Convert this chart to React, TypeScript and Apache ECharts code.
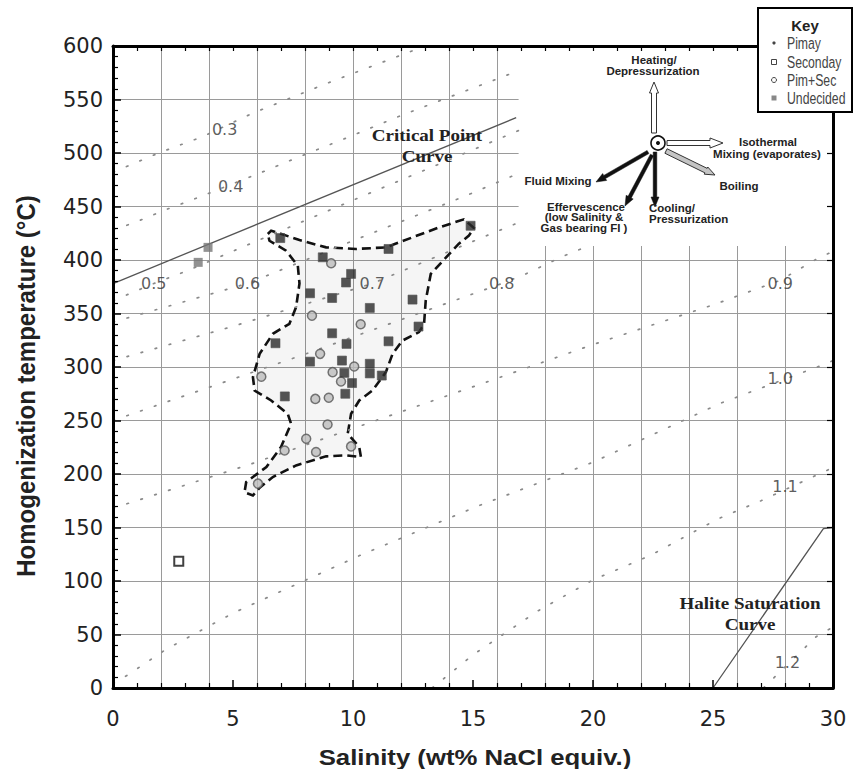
import React, { useEffect, useRef } from 'react';
import * as echarts from 'echarts';

// ---- Reference curves ----
const criticalCurve = [[0, 378], [16.8, 533]];
const haliteCurve = [[25, 0], [29.6, 149], [30, 150]];

// ---- Density isochores (g/cm3) ----
const iso03 = [[0, 482], [1.9, 500], [3.7, 515], [5.8, 537], [8.9, 565], [13.0, 600]];
const iso04 = [[0, 428], [0.9, 435], [2.2, 447], [3.5, 458], [6.2, 482], [7.6, 495], [9.5, 512], [12.0, 535], [14.1, 553], [16.1, 570], [16.9, 577]];
const iso05 = [[0, 362], [1.7, 378], [3.1, 390], [5.7, 415], [10.75, 463], [13.2, 486], [16.9, 521]];
const iso06 = [[0, 342], [5.6, 378], [10, 418], [14.7, 460], [16.9, 481]];
const iso07 = [[0, 306], [5, 338], [10.8, 378], [15.7, 424], [16.9, 435]];
const iso08 = [[0, 250], [8, 312], [16.2, 378], [17.2, 387], [18.7, 403], [19.9, 414]];
const iso09 = [[0, 168], [5.7, 209], [15.7, 287], [20, 321], [25, 358], [27.8, 381], [29.4, 402], [30, 408]];
const iso10 = [[0, 4], [0.6, 12], [2.2, 36], [5, 70], [10.3, 124], [15.2, 170], [20, 211], [25.3, 266], [29.7, 303], [30, 306]];
const iso11 = [[13.3, 0], [15, 31], [17.7, 72], [20, 101], [22.4, 124], [25.2, 158], [27, 175], [30, 206]];
const iso12 = [[27.1, 0], [29.3, 48], [30, 57]];
const isochores = [iso03, iso04, iso05, iso06, iso07, iso08, iso09, iso10, iso11, iso12];

const isoLabelNames = ['0.3', '0.4', '0.5', '0.6', '0.7', '0.8', '0.9', '1.0', '1.1', '1.2'];
const isoLabelPos = [[4.65, 522], [4.9, 469], [1.7, 378], [5.6, 378], [10.8, 378], [16.2, 378], [27.8, 378], [27.8, 289], [28.0, 188], [28.1, 24]];

// ---- Fluid inclusion data (salinity wt% NaCl, Th °C) ----
const undecidedDark = [
  [6.97, 420.5], [11.48, 410.3], [8.74, 402.5], [9.92, 387], [9.71, 379], [8.21, 368.9], [9.13, 364.5],
  [12.48, 363], [10.7, 355.2], [12.73, 337.8], [9.13, 331.5], [6.77, 322.2], [9.73, 321.6], [11.48, 324],
  [8.21, 305], [9.54, 306], [10.7, 303], [9.64, 294.5], [10.7, 294], [11.2, 292], [9.96, 285], [9.68, 275],
  [7.16, 272.5], [14.9, 432],
];
const undecidedLight = [[3.96, 411.8], [3.55, 397.8]];
const pimSec = [
  [9.09, 397], [8.29, 348], [10.32, 340], [8.63, 312.3], [10.05, 300.5], [9.15, 295.2], [9.5, 286.5],
  [6.18, 291], [8.43, 270.2], [8.99, 271.2], [8.94, 246.3], [8.05, 233], [7.15, 222], [8.46, 220.5],
  [9.92, 225.8], [6.04, 191],
];
const secondary = [[2.74, 118.5]];

// ---- Outline of the inclusion field ----
const envelope = [
  [6.45, 424.3], [6.59, 427.4], [7.77, 418.7], [8.88, 411.8], [10.12, 410.3], [11.37, 411.8], [12.48, 421.2],
  [13.59, 430.5], [14.62, 438], [15.04, 430], [14.83, 422.8], [14.4, 415], [13.86, 402], [13.24, 387],
  [13.03, 362], [12.96, 340], [12.75, 332.6], [12.06, 324.7], [11.65, 312.3], [11.37, 295.2], [10.81, 278],
  [10.26, 268.7], [9.92, 256.3], [9.78, 237.6], [10.26, 225.2], [10.33, 215.8], [9.71, 217.4], [8.88, 216.5],
  [7.63, 208], [6.66, 197.2], [6.11, 187.2], [5.83, 180], [5.48, 183], [5.55, 192.5], [6.39, 206.5],
  [7.0, 225.2], [7.42, 247], [7.28, 256.3], [6.59, 268.7], [5.9, 278], [5.83, 290.5], [6.11, 312.3],
  [6.66, 331], [7.35, 340.4], [7.63, 356], [7.77, 378], [7.7, 394.7], [7.21, 408.7], [6.52, 418],
];
const insetArea = [[16.9, 413], [30, 600]];

function arrowPts(x1: number, y1: number, x2: number, y2: number, sw: number, hw: number, hl: number) {
  const dx = x2 - x1, dy = y2 - y1;
  const L = Math.hypot(dx, dy);
  const ux = dx / L, uy = dy / L;
  const nx = -uy, ny = ux;
  const bx = x2 - ux * hl, by = y2 - uy * hl;
  return [
    [x1 + nx * sw / 2, y1 + ny * sw / 2],
    [bx + nx * sw / 2, by + ny * sw / 2],
    [bx + nx * hw / 2, by + ny * hw / 2],
    [x2, y2],
    [bx - nx * hw / 2, by - ny * hw / 2],
    [bx - nx * sw / 2, by - ny * sw / 2],
    [x1 - nx * sw / 2, y1 - ny * sw / 2],
  ];
}

function txt(text: string, x: number, y: number, o: any = {}) {
  return {
    type: 'text',
    x, y,
    z: o.z ?? 50,
    rotation: o.rotation ?? 0,
    scaleX: o.scaleX ?? 1,
    scaleY: o.scaleY ?? 1,
    silent: true,
    style: {
      text,
      fontSize: o.fontSize ?? 10,
      fontWeight: o.fontWeight ?? 'bold',
      fontFamily: o.fontFamily ?? '"Liberation Sans", Arial, sans-serif',
      fill: o.fill ?? '#222',
      align: o.align ?? 'center',
      verticalAlign: 'middle',
      textAlign: o.align ?? 'center',
      textVerticalAlign: 'middle',
      lineHeight: o.lineHeight,
    },
  };
}

function poly(points: number[][], fill: string, stroke: string, lw: number) {
  return { type: 'polygon', z: 50, silent: true, shape: { points }, style: { fill, stroke, lineWidth: lw } };
}

export default function App() {
  const ref = useRef<HTMLDivElement>(null);
  useEffect(() => {
    document.body.style.margin = '0';
    if (!ref.current) return;
    const chart = echarts.init(ref.current, undefined, { renderer: 'svg' });

    const axisLineStyle = { color: '#000', width: 3 };
    const isoLineStyle = { color: '#8a8a8a', width: 1.7, type: [1.6, 13], cap: 'round' };

    const inset = [
      { type: 'circle', z: 50, silent: true, shape: { cx: 658, cy: 143, r: 7 }, style: { fill: '#fff', stroke: '#111', lineWidth: 1.6 } },
      { type: 'circle', z: 51, silent: true, shape: { cx: 658, cy: 143, r: 2 }, style: { fill: '#111' } },
      poly(arrowPts(654, 133, 654, 82, 5, 9, 11), '#fff', '#333', 1),
      poly(arrowPts(667, 143, 723, 143, 5, 10, 13), '#fff', '#333', 1),
      poly(arrowPts(666, 151, 715, 175, 5, 8, 10), '#c4c4c4', '#333', 1),
      poly(arrowPts(648, 152, 596, 182, 3.6, 8, 10), '#111', '#111', 0.5),
      poly(arrowPts(652, 155, 625, 206, 3.6, 8, 10), '#111', '#111', 0.5),
      poly(arrowPts(655, 152, 655, 207, 3.6, 8, 10), '#111', '#111', 0.5),
      txt('Heating/', 654, 60, { scaleX: 1.15 }),
      txt('Depressurization', 653, 71, { scaleX: 1.15 }),
      txt('Isothermal', 768, 142, { scaleX: 1.15 }),
      txt('Mixing (evaporates)', 767, 154, { scaleX: 1.15 }),
      txt('Boiling', 739, 186, { scaleX: 1.15 }),
      txt('Fluid Mixing', 558, 181, { scaleX: 1.15 }),
      txt('Effervescence', 586, 207, { scaleX: 1.15 }),
      txt('(low Salinity &', 584, 217, { scaleX: 1.15 }),
      txt('Gas bearing FI )', 584, 228, { scaleX: 1.15 }),
      txt('Cooling/', 649, 208, { scaleX: 1.15, align: 'left' }),
      txt('Pressurization', 649, 219, { scaleX: 1.15, align: 'left' }),
    ];

    const keyBox = [
      { type: 'rect', z: 100, silent: true, shape: { x: 758, y: 8, width: 94, height: 104 }, style: { fill: '#fff', stroke: '#000', lineWidth: 2 } },
      txt('Key', 805, 25, { fontSize: 15, z: 101, fill: '#222' }),
      { type: 'circle', z: 101, silent: true, shape: { cx: 774, cy: 43, r: 1.6 }, style: { fill: '#444' } },
      { type: 'rect', z: 101, silent: true, shape: { x: 771.5, y: 59.5, width: 5, height: 5 }, style: { fill: '#fff', stroke: '#444', lineWidth: 1 } },
      { type: 'circle', z: 101, silent: true, shape: { cx: 774, cy: 80, r: 2.5 }, style: { fill: '#fff', stroke: '#444', lineWidth: 1 } },
      { type: 'rect', z: 101, silent: true, shape: { x: 771.5, y: 95.5, width: 5, height: 5 }, style: { fill: '#888' } },
      txt('Pimay', 787, 43, { fontSize: 17, fontWeight: 'normal', scaleX: 0.72, align: 'left', z: 101, fill: '#444' }),
      txt('Seconday', 787, 62, { fontSize: 17, fontWeight: 'normal', scaleX: 0.72, align: 'left', z: 101, fill: '#444' }),
      txt('Pim+Sec', 787, 80, { fontSize: 17, fontWeight: 'normal', scaleX: 0.72, align: 'left', z: 101, fill: '#444' }),
      txt('Undecided', 787, 98, { fontSize: 17, fontWeight: 'normal', scaleX: 0.72, align: 'left', z: 101, fill: '#444' }),
    ];

    const titles = [
      txt('Salinity (wt% NaCl equiv.)', 475, 757, { fontSize: 22, scaleX: 1.17 }),
      txt('Homogenization temperature (°C)', 26, 386, { fontSize: 24, rotation: Math.PI / 2, scaleY: 1.1 }),
      txt('Critical Point\nCurve', 427, 146, { fontSize: 17, fontFamily: '"Liberation Serif", "Times New Roman", serif', scaleX: 1.12, lineHeight: 21 }),
      txt('Halite Saturation\nCurve', 750, 614, { fontSize: 17, fontFamily: '"Liberation Serif", "Times New Roman", serif', scaleX: 1.12, lineHeight: 21 }),
    ];

    const option: any = {
      animation: false,
      backgroundColor: '#fff',
      grid: { left: 113, right: 22, top: 46, bottom: 81, containLabel: false },
      xAxis: [
        {
          type: 'value', position: 'bottom', min: 0, max: 30, interval: 5, z: 10,
          axisLine: { show: true, onZero: false, lineStyle: axisLineStyle },
          axisTick: { show: true, inside: true, length: 8, lineStyle: { color: '#000', width: 1.5 } },
          minorTick: { show: true, splitNumber: 5, length: 5, lineStyle: { color: '#000', width: 1.2 } },
          axisLabel: { color: '#222', fontSize: 21, fontFamily: 'DejaVu Sans', margin: 20 },
          splitLine: { show: false },
        },
        {
          type: 'value', position: 'top', min: 0, max: 30, interval: 1, z: 10,
          axisLine: { show: true, onZero: false, lineStyle: axisLineStyle },
          axisTick: { show: true, inside: true, length: 5, lineStyle: { color: '#000', width: 1.2 } },
          axisLabel: { show: false },
          splitLine: { show: false },
        },
        {
          type: 'value', min: 0, max: 30, interval: 2, z: 0,
          axisLine: { show: false }, axisTick: { show: false }, axisLabel: { show: false },
          splitLine: { show: true, lineStyle: { color: '#9a9a9a', width: 1 } },
        },
      ],
      yAxis: [
        {
          type: 'value', position: 'left', min: 0, max: 600, interval: 50, z: 10,
          axisLine: { show: true, onZero: false, lineStyle: axisLineStyle },
          axisTick: { show: true, inside: true, length: 8, lineStyle: { color: '#000', width: 1.5 } },
          minorTick: { show: true, splitNumber: 5, length: 5, lineStyle: { color: '#000', width: 1.2 } },
          axisLabel: { color: '#222', fontSize: 21, fontFamily: 'DejaVu Sans', margin: 10 },
          splitLine: { show: false },
        },
        {
          type: 'value', position: 'right', min: 0, max: 600, interval: 50, z: 10,
          axisLine: { show: true, onZero: false, lineStyle: axisLineStyle },
          axisTick: { show: true, inside: true, length: 6, lineStyle: { color: '#000', width: 1.2 } },
          axisLabel: { show: false },
          splitLine: { show: false },
        },
        {
          type: 'value', min: 0, max: 600, interval: 50, z: 0,
          axisLine: { show: false }, axisTick: { show: false }, axisLabel: { show: false },
          splitLine: { show: true, lineStyle: { color: '#9a9a9a', width: 1 } },
        },
      ],
      series: [
        {
          name: 'inset', type: 'custom', z: 1, silent: true,
          data: [insetArea[0]],
          renderItem: (_p: any, api: any) => {
            const a = api.coord(insetArea[0]);
            const b = api.coord(insetArea[1]);
            return {
              type: 'rect',
              shape: { x: Math.min(a[0], b[0]), y: Math.min(a[1], b[1]), width: Math.abs(b[0] - a[0]), height: Math.abs(b[1] - a[1]) },
              style: { fill: '#fff' },
            };
          },
        },
        {
          name: 'field', type: 'custom', z: 2, silent: true,
          data: [envelope[0]],
          renderItem: (_p: any, api: any) => ({
            type: 'polygon',
            shape: { points: envelope.map((p) => api.coord(p)) },
            style: { fill: 'rgba(0,0,0,0.04)', stroke: '#111', lineWidth: 2.6, lineDash: [9, 5] },
          }),
        },
        ...isochores.map((d, i) => ({
          name: 'iso ' + isoLabelNames[i], type: 'line', z: 3, silent: true,
          data: d, symbol: 'none', showSymbol: false, lineStyle: isoLineStyle,
        })),
        {
          name: 'Critical Point Curve', type: 'line', z: 3, silent: true, data: criticalCurve,
          symbol: 'none', lineStyle: { color: '#555', width: 1.3 },
        },
        {
          name: 'Halite Saturation Curve', type: 'line', z: 3, silent: true, data: haliteCurve,
          symbol: 'none', lineStyle: { color: '#555', width: 1.3 },
        },
        {
          name: 'Pim+Sec', type: 'scatter', z: 5, data: pimSec, symbol: 'circle', symbolSize: 9,
          itemStyle: { color: '#bdbdbd', borderColor: '#555', borderWidth: 1.5 },
        },
        {
          name: 'Undecided', type: 'scatter', z: 6, data: undecidedDark, symbol: 'rect', symbolSize: 9,
          itemStyle: { color: '#2b2b2b', borderColor: '#555', borderWidth: 0.8 },
        },
        {
          name: 'Undecided (light)', type: 'scatter', z: 6, data: undecidedLight, symbol: 'rect', symbolSize: 9,
          itemStyle: { color: '#777' },
        },
        {
          name: 'Seconday', type: 'scatter', z: 6, data: secondary, symbol: 'rect', symbolSize: 9,
          itemStyle: { color: '#fff', borderColor: '#111', borderWidth: 2 },
        },
        {
          name: 'density labels', type: 'scatter', z: 7, silent: true, symbolSize: 0,
          data: isoLabelPos.map((p, i) => ({ value: p, name: isoLabelNames[i] })),
          label: {
            show: true, position: 'inside', formatter: '{b}', color: '#333',
            fontSize: 16, fontFamily: 'DejaVu Sans',
          },
        },
      ],
      graphic: [...titles, ...inset, ...keyBox],
    };
    chart.setOption(option);
    return () => chart.dispose();
  }, []);
  return <div ref={ref} style={{ width: 855, height: 769 }} />;
}
